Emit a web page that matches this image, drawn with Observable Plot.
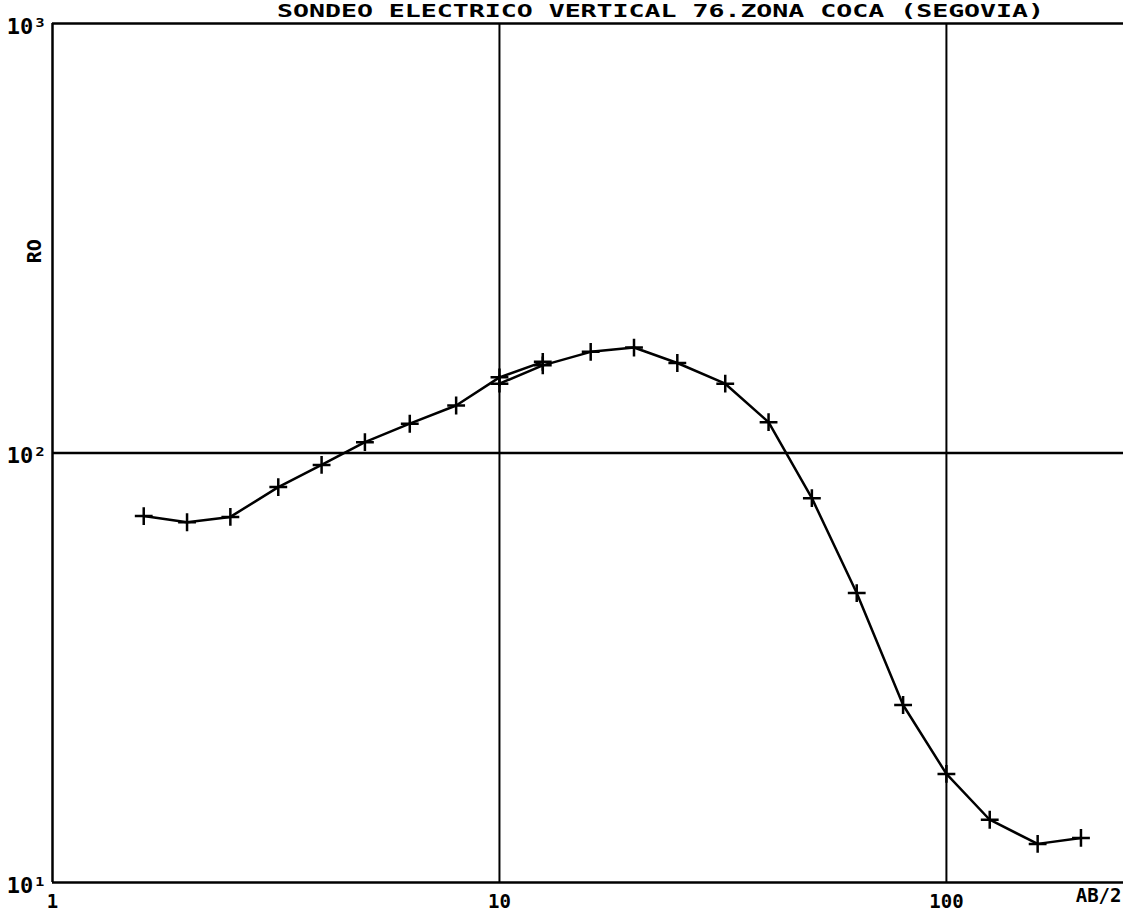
<!DOCTYPE html>
<html>
<head>
<meta charset="utf-8">
<script src="https://cdn.jsdelivr.net/npm/d3@7"></script>
<script src="https://cdn.jsdelivr.net/npm/@observablehq/plot@0.6"></script>
<style>
  html, body { margin: 0; padding: 0; background: #fff; }
  #chart svg { display: block; }
</style>
</head>
<body>
<div id="chart"></div>
<script>
// Data (AB/2 in m, apparent resistivity RO)
const titleText = "SONDEO ELECTRICO VERTICAL 76.ZONA COCA (SEGOVIA)";
const abSeg1 = [1.6, 2, 2.5, 3.2, 4, 5, 6.3, 8, 10, 12.5];
const roSeg1 = [71.3, 69.0, 71.0, 83.3, 93.8, 106, 117, 129, 150, 163];
const abSeg2 = [10, 12.5, 16, 20, 25, 32, 40, 50, 63, 80, 100, 125, 160, 200];
const roSeg2 = [145, 160, 172, 176, 162, 145, 118, 78.5, 47.2, 25.9, 17.9, 14.0, 12.3, 12.7];
const xTicks = [1, 10, 100];
const xTickLabels = ["1", "10", "100"];
const yTicks = [10, 100, 1000];
const yTickLabels = ["10¹", "10²", "10³"];
const xLabel = "AB/2";
const yLabel = "RO";

const data = [
  ...abSeg1.map((x, i) => ({ab: x, ro: roSeg1[i], tramo: 1})),
  ...abSeg2.map((x, i) => ({ab: x, ro: roSeg2[i], tramo: 2}))
];

const font = "'DejaVu Sans Mono', monospace";

const chart = Plot.plot({
  width: 1123,
  height: 915,
  marginLeft: 52,
  marginRight: 0,
  marginTop: 23,
  marginBottom: 33,
  style: {fontFamily: font, fontSize: "16px", fontWeight: "bold", background: "#fff", color: "#000"},
  x: {type: "log", domain: [1, 249], axis: null},
  y: {type: "log", domain: [10, 1000], axis: null},
  marks: [
    Plot.ruleX([1], {stroke: "black", strokeWidth: 2.5}),
    Plot.ruleY([10, 1000], {stroke: "black", strokeWidth: 2.5}),
    Plot.ruleX([10, 100], {stroke: "black", strokeWidth: 2}),
    Plot.ruleY([100], {stroke: "black", strokeWidth: 2.5}),
    Plot.line(data, {x: "ab", y: "ro", z: "tramo", stroke: "black", strokeWidth: 2.5}),
    Plot.dot(data, {x: "ab", y: "ro", symbol: "plus", r: 5.8, stroke: "black", strokeWidth: 2.5}),
    Plot.text(xTicks, {x: d => d, y: () => 10, text: (d, i) => xTickLabels[i], dy: 19, fontSize: 19, fontWeight: "bold"}),
    Plot.text([xLabel], {frameAnchor: "bottom-right", dy: 19, dx: -2, textAnchor: "end", fontSize: 19, fontWeight: "bold"}),
    Plot.text(yTicks, {x: () => 1, y: d => d, text: (d, i) => yTickLabels[i], dx: -6, dy: 3, textAnchor: "end", fontSize: 22, fontWeight: "bold"}),
    Plot.text([yLabel], {x: () => 1, y: () => 295, dx: -18, rotate: -90, fontSize: 20, fontWeight: "bold"}),
    Plot.text([titleText], {frameAnchor: "top", dx: 72.5, dy: -7, lineAnchor: "bottom", fontSize: 18, fontWeight: "bold"})
  ]
});

document.getElementById("chart").appendChild(chart);
// stretch the plotter-style title to its width in the reference
d3.select(chart).selectAll("text").filter(function() { return this.textContent === titleText; })
  .attr("textLength", 767).attr("lengthAdjust", "spacingAndGlyphs");
</script>
</body>
</html>
